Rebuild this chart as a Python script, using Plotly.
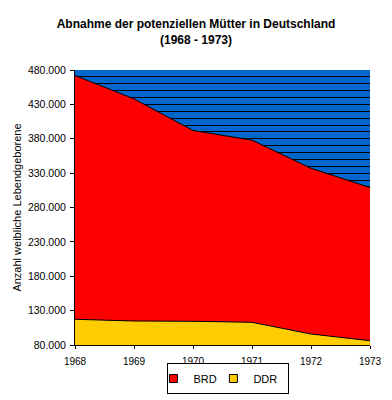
import plotly.graph_objects as go

years = [1968, 1969, 1970, 1971, 1972, 1973]
ddr = [117400, 114900, 114500, 113000, 96000, 86300]
brd = [354600, 323100, 277500, 265000, 241000, 222700]

y_ticks = [80000, 130000, 180000, 230000, 280000, 330000, 380000, 430000, 480000]
y_tick_text = ["80.000", "130.000", "180.000", "230.000", "280.000", "330.000", "380.000", "430.000", "480.000"]
x_tick_text = ["1968", "1969", "1970", "1971", "1972", "1973"]
hatch_vals = list(range(90000, 480000, 10000))

FONT = "Liberation Sans, Arial, sans-serif"
RED = "#FF0000"
YELLOW = "#FFCC00"

fig = go.Figure()
fig.add_trace(go.Scatter(
    x=years, y=ddr, name="DDR", stackgroup="one", mode="lines",
    line=dict(color="black", width=1), fillcolor=YELLOW, showlegend=False,
))
fig.add_trace(go.Scatter(
    x=years, y=brd, name="BRD", stackgroup="one", mode="lines",
    line=dict(color="black", width=1), fillcolor=RED, showlegend=False,
))
# legend entries (square swatches)
for name, col in [("BRD", RED), ("DDR", YELLOW)]:
    fig.add_trace(go.Scatter(
        x=[None], y=[None], name=name, mode="markers",
        marker=dict(symbol="square", size=8, color=col, line=dict(color="black", width=1)),
    ))
# hatch lines of the plot background
fig.add_trace(go.Scatter(x=[None], y=[None], yaxis="y2", showlegend=False, hoverinfo="skip"))

fig.update_layout(
    width=392, height=400,
    margin=dict(l=75, r=22, t=70, b=55),
    paper_bgcolor="white",
    plot_bgcolor="#0066CC",
    font=dict(family=FONT, size=10, color="black"),
    title=dict(
        text="<b>Abnahme der potenziellen Mütter in Deutschland<br>(1968 - 1973)</b>",
        x=0.5, xanchor="center", y=0.93, yanchor="top",
        font=dict(family=FONT, size=12, color="black"),
    ),
    showlegend=True,
    legend=dict(
        orientation="h", x=0.52, xanchor="center",
        yref="container", y=0.015, yanchor="bottom",
        bordercolor="black", borderwidth=1, bgcolor="white",
        font=dict(family=FONT, size=11),
        itemwidth=30, entrywidth=30, indentation=-15, traceorder="normal",
        tracegroupgap=0, itemclick=False,
    ),
    xaxis=dict(
        range=[1968, 1973], tickvals=years, ticktext=x_tick_text,
        showgrid=False, zeroline=False, showline=True, linecolor="black", linewidth=1,
        ticks="outside", ticklen=3, tickcolor="black", ticklabelstandoff=4,
        tickfont=dict(family=FONT, size=10), automargin=False,
    ),
    yaxis=dict(
        range=[80000, 480000], tickvals=y_ticks, ticktext=y_tick_text,
        showgrid=False,
        zeroline=False, showline=True, linecolor="black", linewidth=1,
        ticks="outside", ticklen=4, tickcolor="black", ticklabelstandoff=2,
        tickfont=dict(family=FONT, size=10.5), automargin=False,
        title=dict(text="Anzahl weibliche Lebendgeborene", font=dict(family=FONT, size=11), standoff=4),
    ),
    yaxis2=dict(
        range=[80000, 480000], overlaying="y", tickvals=hatch_vals,
        showgrid=True, gridcolor="black", gridwidth=1,
        showticklabels=False, ticks="", zeroline=False, showline=False,
        automargin=False,
    ),
)

fig.write_html(
    "out.html",
    config={"displayModeBar": False},
    post_script="document.body.style.margin='0px';document.body.style.overflow='hidden';",
)
